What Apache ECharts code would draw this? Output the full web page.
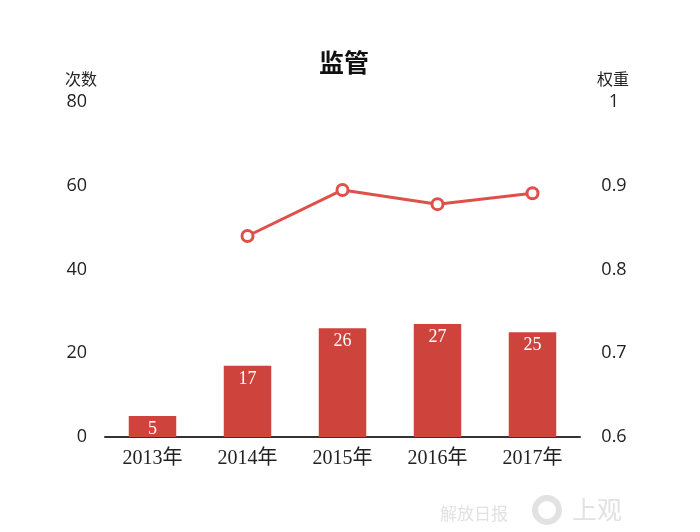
<!DOCTYPE html>
<html><head><meta charset="utf-8">
<script src="https://cdn.jsdelivr.net/npm/echarts@6/dist/echarts.min.js"></script>
<style>html,body{margin:0;padding:0;background:#fff}#c{width:700px;height:532px}</style>
</head><body><div id="c"></div>
<script>
var categories = ['2013年','2014年','2015年','2016年','2017年'];
var counts = [5, 17, 26, 27, 25];
var weights = [null, 0.84, 0.895, 0.878, 0.891];
var leftTicks = [0, 20, 40, 60, 80];
var rightTicks = [0.6, 0.7, 0.8, 0.9, 1];

var chart = echarts.init(document.getElementById('c'));
chart.setOption({
  backgroundColor: '#ffffff',
  animation: false,
  title: {
    text: '监管', left: 314, top: 45,
    textStyle: {fontSize: 25, fontWeight: 'bold', color: '#111', fontFamily: 'Noto Sans CJK SC'}
  },
  grid: {left: 105, right: 120, top: 102, bottom: 95},
  xAxis: {
    type: 'category', data: categories,
    axisLine: {lineStyle: {color: '#333', width: 2}},
    axisTick: {show: false},
    axisLabel: {color: '#222', fontSize: 20, margin: 12, fontFamily: 'Liberation Serif, Noto Sans CJK SC'}
  },
  yAxis: [{
    type: 'value', min: 0, max: 80, interval: 20,
    name: '次数', nameLocation: 'end', nameGap: 15,
    nameTextStyle: {color: '#222', fontSize: 16, align: 'left', padding: [0, 0, 0, -40], fontFamily: 'Noto Sans CJK SC'},
    axisLine: {show: false}, axisTick: {show: false}, splitLine: {show: false},
    axisLabel: {color: '#222', fontSize: 18, margin: 18, fontFamily: 'Open Sans'}
  }, {
    type: 'value', min: 0.6, max: 1, interval: 0.1,
    name: '权重', nameLocation: 'end', nameGap: 15,
    nameTextStyle: {color: '#222', fontSize: 16, align: 'left', padding: [0, 0, 0, 17], fontFamily: 'Noto Sans CJK SC'},
    axisLine: {show: false}, axisTick: {show: false}, splitLine: {show: false},
    axisLabel: {color: '#222', fontSize: 18, margin: 34, align: 'center', fontFamily: 'Open Sans',
      formatter: function (v) { return String(Math.round(v * 10) / 10); }}
  }],
  series: [{
    type: 'bar', data: counts, barWidth: '50%', yAxisIndex: 0,
    itemStyle: {color: '#cf433d'},
    label: {show: true, position: 'insideTop', distance: 4, color: '#fff', fontSize: 18, fontFamily: 'Liberation Serif'}
  }, {
    type: 'line', data: weights, yAxisIndex: 1,
    symbol: 'circle', symbolSize: 11,
    lineStyle: {color: '#e0504b', width: 3},
    itemStyle: {color: '#fff', borderColor: '#e0504b', borderWidth: 3}
  }],
  graphic: [{
    type: 'text', left: 440, top: 505,
    style: {text: '解放日报', fontSize: 17, fill: '#e2e2e2', fontFamily: 'Noto Sans CJK SC'}
  }, {
    type: 'circle', shape: {cx: 547, cy: 510, r: 12},
    style: {fill: 'none', stroke: '#e2e2e2', lineWidth: 6}
  }, {
    type: 'text', left: 572, top: 497,
    style: {text: '上观', fontSize: 25, fill: '#e2e2e2', fontFamily: 'Noto Sans CJK SC'}
  }]
});
</script></body></html>
